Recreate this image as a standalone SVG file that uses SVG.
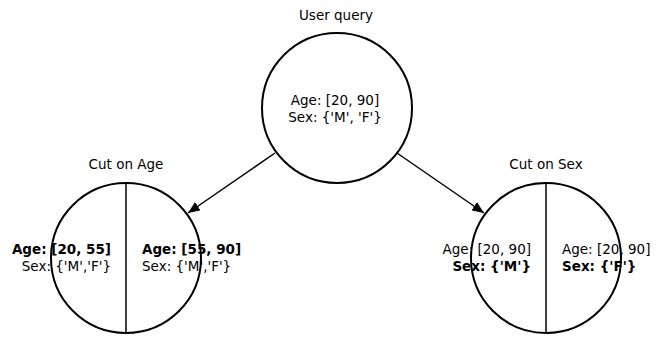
<svg xmlns="http://www.w3.org/2000/svg" width="662" height="337" viewBox="0 0 662 337">
<defs>
<marker id="ah" markerWidth="12" markerHeight="10" refX="12" refY="5" orient="auto" markerUnits="userSpaceOnUse">
<path d="M0,0 L12,5 L0,10 Z" fill="#000"/>
</marker>
</defs>
<style>
text{font-family:"DejaVu Sans",sans-serif;font-size:13.5px;fill:#000}
.b{font-weight:bold}
.c{fill:#fff;stroke:#000;stroke-width:2}
.d{stroke:#000;stroke-width:1.5}
.e{stroke:#000;stroke-width:1.5;fill:none}
</style>
<rect width="662" height="337" fill="#fff"/>
<g id="query">
<text x="336" y="20" text-anchor="middle">User query</text>
<circle class="c" cx="337" cy="108" r="75"/>
<text x="335" y="105" text-anchor="middle">Age: [20, 90]</text>
<text x="335" y="122" text-anchor="middle">Sex: {'M', 'F'}</text>
</g>
<g id="cutage">
<text x="126" y="169" text-anchor="middle">Cut on Age</text>
<circle class="c" cx="126" cy="258" r="75"/>
<line class="d" x1="126" y1="183" x2="126" y2="333"/>
<text class="b" x="111" y="254" text-anchor="end">Age: [20, 55]</text>
<text x="111" y="271" text-anchor="end">Sex: {'M','F'}</text>
<text class="b" x="142" y="254">Age: [55, 90]</text>
<text x="142" y="271">Sex: {'M','F'}</text>
</g>
<g id="cutsex">
<text x="546" y="169" text-anchor="middle">Cut on Sex</text>
<circle class="c" cx="546" cy="258" r="75"/>
<line class="d" x1="546" y1="183" x2="546" y2="333"/>
<text x="531" y="254" text-anchor="end">Age: [20, 90]</text>
<text class="b" x="531" y="271" text-anchor="end">Sex: {'M'}</text>
<text x="562" y="254">Age: [20, 90]</text>
<text class="b" x="562" y="271">Sex: {'F'}</text>
</g>
<g id="connectors">
<line class="e" x1="275" y1="153" x2="188" y2="213" marker-end="url(#ah)"/>
<line class="e" x1="397" y1="153" x2="484" y2="213" marker-end="url(#ah)"/>
</g>
</svg>
